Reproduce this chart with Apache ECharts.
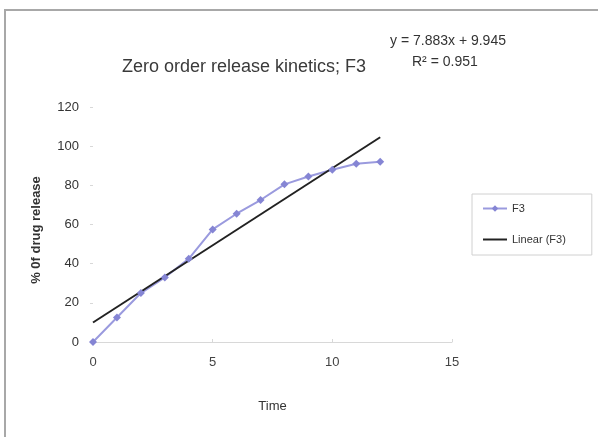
<!DOCTYPE html>
<html><head><meta charset="utf-8">
<script src="https://cdn.jsdelivr.net/npm/echarts@6/dist/echarts.min.js"></script>
<style>html,body{margin:0;padding:0;background:#fff}#c{width:598px;height:437px}</style>
</head><body><div id="c"></div>
<script>
const timeValues = [0, 1, 2, 3, 4, 5, 6, 7, 8, 9, 10, 11, 12];
const f3Values = [0, 12.5, 25, 33, 42.5, 57.5, 65.5, 72.5, 80.5, 84.5, 88, 91, 92];
const trendX = [0, 12];
const trendY = [9.945, 104.541];
const xTicks = [0, 5, 10, 15];

const chart = echarts.init(document.getElementById('c'));
chart.setOption({
  animation: false,
  textStyle: {fontFamily: 'Liberation Sans, Arial, sans-serif'},
  graphic: [
    {type: 'polyline', shape: {points: [[5, 440], [5, 10], [600, 10]]}, style: {stroke: '#a8a8a8', lineWidth: 2, fill: null}},
    {type: 'text', left: 122, top: 58, style: {text: 'Zero order release kinetics; F3', font: '18px Liberation Sans, Arial', fill: '#3a3a3a'}},
    {type: 'text', left: 390, top: 34, style: {text: 'y = 7.883x + 9.945', font: '14px Liberation Sans, Arial', fill: '#333'}},
    {type: 'text', left: 412, top: 55, style: {text: 'R² = 0.951', font: '14px Liberation Sans, Arial', fill: '#333'}},
    {type: 'text', x: 36, y: 230, rotation: Math.PI / 2,
     style: {text: '% 0f drug release', font: 'bold 13px Liberation Sans, Arial', fill: '#333', align: 'center', verticalAlign: 'middle'}}
  ],
  legend: {
    orient: 'vertical', left: 472, top: 194, width: 110,
    padding: [9, 26, 10, 10], itemGap: 20,
    borderColor: '#d0d0d0', borderWidth: 1,
    itemWidth: 24, itemHeight: 8,
    textStyle: {fontSize: 11, color: '#333'},
    data: [{name: 'F3'}, {name: 'Linear (F3)', icon: 'path://M0,0 L24,0 L24,2 L0,2 Z'}]
  },
  grid: {left: 93, right: 146, top: 107, bottom: 95},
  xAxis: {
    type: 'value', min: 0, max: 15, interval: 5,
    name: 'Time', nameLocation: 'middle', nameGap: 58,
    nameTextStyle: {fontSize: 13, color: '#333'},
    axisLine: {lineStyle: {color: '#d8d8d8'}},
    axisTick: {show: true, inside: true, length: 3, lineStyle: {color: '#d8d8d8'}},
    axisLabel: {fontSize: 13, color: '#444', margin: 14, customValues: xTicks},
    splitLine: {show: false}
  },
  yAxis: {
    type: 'value', min: 0, max: 120, interval: 20,
    axisLine: {show: false},
    axisTick: {show: true, length: 3, lineStyle: {color: '#d8d8d8'}},
    axisLabel: {fontSize: 13, color: '#333', margin: 14},
    splitLine: {show: false}
  },
  series: [
    {
      name: 'F3', type: 'line',
      data: timeValues.map((t, i) => [t, f3Values[i]]),
      symbol: 'diamond', symbolSize: 8,
      lineStyle: {color: '#9a9ade', width: 2},
      itemStyle: {color: '#8585d4'}
    },
    {
      name: 'Linear (F3)', type: 'line',
      data: trendX.map((t, i) => [t, trendY[i]]),
      symbol: 'none',
      lineStyle: {color: '#222', width: 2},
      itemStyle: {color: '#222'}
    }
  ]
});
</script></body></html>
